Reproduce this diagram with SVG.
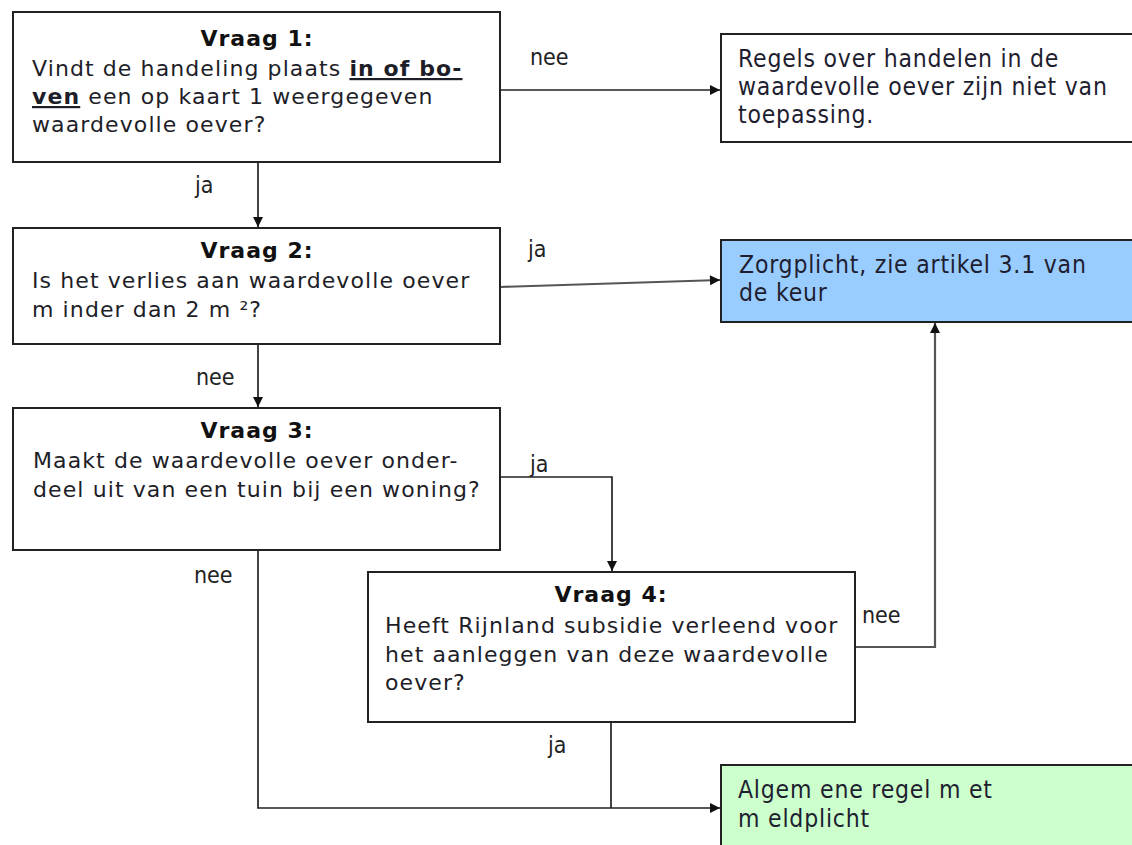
<svg xmlns="http://www.w3.org/2000/svg" width="1132" height="845" viewBox="0 0 1132 845">
<defs>
<marker id="arr" viewBox="0 0 10 10" refX="10" refY="5" markerWidth="11" markerHeight="10" markerUnits="userSpaceOnUse" orient="auto">
<path d="M0,0 L10,5 L0,10 z" fill="#111"/>
</marker>
<style>
.box{fill:#fff;stroke:#222;stroke-width:2}
.blue{fill:#99ccff;stroke:#222;stroke-width:2}
.green{fill:#ccffcc;stroke:#222;stroke-width:2}
.q{font-family:"DejaVu Sans",Verdana,sans-serif;font-size:22px;letter-spacing:1.1px;fill:#1e1e28}
.qt{font-family:"DejaVu Sans",Verdana,sans-serif;font-size:22px;font-weight:bold;letter-spacing:1px;fill:#111;text-anchor:middle}
.bu{font-weight:bold;text-decoration:underline}
.r{font-family:"DejaVu Sans Condensed","DejaVu Sans",sans-serif;font-stretch:condensed;font-size:24.5px;letter-spacing:0.8px;fill:#1e1e30}
.lbl{font-family:"DejaVu Sans Condensed","DejaVu Sans",sans-serif;font-stretch:condensed;font-size:23px;fill:#222}
.c{fill:none;stroke:#222;stroke-width:1.7}
.cg{fill:none;stroke:#555;stroke-width:2.2}
</style>
</defs>
<rect width="1132" height="845" fill="#fff"/>

<g id="connectors">
<path class="c" d="M500,90 H720" marker-end="url(#arr)"/>
<path class="c" d="M258,162 V227" marker-end="url(#arr)"/>
<path class="cg" d="M500,287 L720,280" marker-end="url(#arr)"/>
<path class="c" d="M258,344 V407" marker-end="url(#arr)"/>
<path class="c" d="M500,477 H612 V571" marker-end="url(#arr)"/>
<path class="c" d="M258,550 V808 H720" marker-end="url(#arr)"/>
<path class="c" d="M611,722 V808"/>
<path class="cg" d="M856,647 H935 V323" marker-end="url(#arr)"/>
<text class="lbl" x="530" y="65">nee</text>
<text class="lbl" x="195" y="193">ja</text>
<text class="lbl" x="528" y="257">ja</text>
<text class="lbl" x="196" y="385">nee</text>
<text class="lbl" x="530" y="472">ja</text>
<text class="lbl" x="194" y="583">nee</text>
<text class="lbl" x="548" y="753">ja</text>
<text class="lbl" x="862" y="623">nee</text>
</g>

<g id="vraag1">
<rect class="box" x="13" y="12" width="487" height="150"/>
<text class="qt" x="257" y="46">Vraag 1:</text>
<text class="q" x="32" y="76">Vindt de handeling plaats <tspan class="bu">in of bo-</tspan></text>
<text class="q" x="32" y="104"><tspan class="bu">ven</tspan> een op kaart 1 weergegeven</text>
<text class="q" x="32" y="132">waardevolle oever?</text>
</g>

<g id="regels">
<rect class="box" x="721" y="34" width="420" height="108"/>
<text class="r" x="738" y="67">Regels over handelen in de</text>
<text class="r" x="738" y="95">waardevolle oever zijn niet van</text>
<text class="r" x="738" y="123">toepassing.</text>
</g>

<g id="vraag2">
<rect class="box" x="13" y="228" width="487" height="116"/>
<text class="qt" x="257" y="258">Vraag 2:</text>
<text class="q" x="32" y="288">Is het verlies aan waardevolle oever</text>
<text class="q" x="32" y="317">m inder dan 2 m ²?</text>
</g>

<g id="zorgplicht">
<rect class="blue" x="721" y="240" width="420" height="82"/>
<text class="r" x="739" y="273">Zorgplicht, zie artikel 3.1 van</text>
<text class="r" x="739" y="301">de keur</text>
</g>

<g id="vraag3">
<rect class="box" x="13" y="408" width="487" height="142"/>
<text class="qt" x="257" y="438">Vraag 3:</text>
<text class="q" x="33" y="468">Maakt de waardevolle oever onder-</text>
<text class="q" x="33" y="497">deel uit van een tuin bij een woning?</text>
</g>

<g id="vraag4">
<rect class="box" x="368" y="572" width="487" height="150"/>
<text class="qt" x="611" y="602">Vraag 4:</text>
<text class="q" x="385" y="633">Heeft Rijnland subsidie verleend voor</text>
<text class="q" x="385" y="662">het aanleggen van deze waardevolle</text>
<text class="q" x="385" y="690">oever?</text>
</g>

<g id="algemene">
<rect class="green" x="721" y="765" width="420" height="100"/>
<text class="r" x="738" y="798">Algem ene regel m et</text>
<text class="r" x="738" y="827">m eldplicht</text>
</g>
</svg>
